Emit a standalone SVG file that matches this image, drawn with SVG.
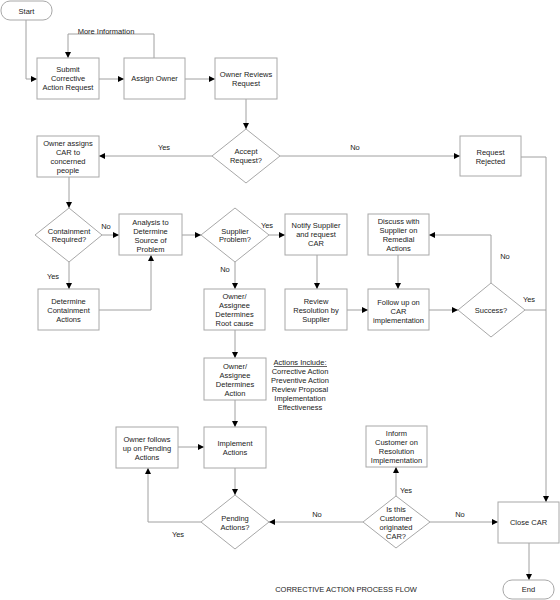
<svg xmlns="http://www.w3.org/2000/svg" width="560" height="600" viewBox="0 0 560 600">
<style>
.bg{fill:#fff}
.n{fill:#fff;stroke:#a8a8a8;stroke-width:1}
.t{font-family:"Liberation Sans",Arial,sans-serif;font-size:7.5px;fill:#222;text-anchor:middle}
.c{fill:none;stroke:#a0a0a0;stroke-width:1}
.a{marker-end:url(#ah)}
</style>
<defs>
<marker id="ah" viewBox="0 0 6 6" refX="6" refY="3" markerWidth="6" markerHeight="6" markerUnits="userSpaceOnUse" orient="auto"><path d="M0,0 L6,3 L0,6 z" fill="#000"/></marker>
</defs>
<rect class="bg" x="0" y="0" width="560" height="600"/>
<g id="connectors">
<path class="c a" d="M26,20 V79 H37"/>
<path class="c a" d="M99,79 H124"/>
<path class="c a" d="M154,58 V34 H68 V58"/>
<path class="c a" d="M185,79 H215"/>
<path class="c a" d="M246,99 V129"/>
<path class="c a" d="M212,156 H99"/>
<path class="c a" d="M280,156 H460"/>
<path class="c a" d="M521,157 H546 V502"/>
<path class="c a" d="M69,177 V208"/>
<path class="c a" d="M102,235 H119"/>
<path class="c a" d="M69,262 V289"/>
<path class="c a" d="M99,310 H151 V255"/>
<path class="c a" d="M182,235 H201"/>
<path class="c a" d="M269,235 H285"/>
<path class="c a" d="M235,262 V289"/>
<path class="c a" d="M317,255 V289"/>
<path class="c a" d="M347,310 H368"/>
<path class="c a" d="M398,255 V289"/>
<path class="c a" d="M429,310 H458"/>
<path class="c a" d="M491,283 V235 H429"/>
<path class="c" d="M525,310 H546"/>
<path class="c a" d="M235,330 V358"/>
<path class="c a" d="M235,400 V427"/>
<path class="c a" d="M178,447 H204"/>
<path class="c a" d="M235,468 V495"/>
<path class="c a" d="M201,522 H148 V468"/>
<path class="c a" d="M363,522 H269"/>
<path class="c a" d="M396,496 V467"/>
<path class="c a" d="M430,522 H498"/>
<path class="c a" d="M529,543 V580"/>
<text class="t" x="106" y="33.5">More Information</text>
<text class="t" x="164" y="149.5">Yes</text>
<text class="t" x="355" y="149.5">No</text>
<text class="t" x="106" y="228.5">No</text>
<text class="t" x="53" y="278.5">Yes</text>
<text class="t" x="267" y="227.5">Yes</text>
<text class="t" x="225" y="271.5">No</text>
<text class="t" x="505" y="258.5">No</text>
<text class="t" x="529" y="301.5">Yes</text>
<text class="t" x="178" y="536.5">Yes</text>
<text class="t" x="317" y="516.5">No</text>
<text class="t" x="406" y="492.5">Yes</text>
<text class="t" x="460" y="516.5">No</text>
</g>
<g id="start"><rect class="n" x="1" y="1" width="51" height="19" rx="9"/><text class="t" x="26.5" y="13.5">Start</text></g>
<g id="submit"><rect class="n" x="37" y="58" width="62" height="41"/><text class="t"><tspan x="68" y="72">Submit</tspan><tspan x="68" y="81">Corrective</tspan><tspan x="68" y="90">Action Request</tspan></text></g>
<g id="assign"><rect class="n" x="124" y="58" width="61" height="41"/><text class="t" x="154.5" y="81">Assign Owner</text></g>
<g id="reviews"><rect class="n" x="215" y="58" width="62" height="41"/><text class="t"><tspan x="246" y="77">Owner Reviews</tspan><tspan x="246" y="86">Request</tspan></text></g>
<g id="accept"><polygon class="n" points="246,129 280,156 246,183 212,156"/><text class="t"><tspan x="246" y="154">Accept</tspan><tspan x="246" y="163">Request?</tspan></text></g>
<g id="rejected"><rect class="n" x="460" y="136" width="61" height="40"/><text class="t"><tspan x="490.5" y="155">Request</tspan><tspan x="490.5" y="164">Rejected</tspan></text></g>
<g id="assigns"><rect class="n" x="37" y="136" width="62" height="41"/><text class="t"><tspan x="68" y="145.5">Owner assigns</tspan><tspan x="68" y="154.5">CAR to</tspan><tspan x="68" y="163.5">concerned</tspan><tspan x="68" y="172.5">people</tspan></text></g>
<g id="containment"><polygon class="n" points="69,208 102,235 69,262 35,235"/><text class="t"><tspan x="69" y="234">Containment</tspan><tspan x="69" y="242">Required?</tspan></text></g>
<g id="analysis"><rect class="n" x="119" y="214" width="63" height="41"/><text class="t"><tspan x="150.5" y="225">Analysis to</tspan><tspan x="150.5" y="234">Determine</tspan><tspan x="150.5" y="243">Source of</tspan><tspan x="150.5" y="251.5">Problem</tspan></text></g>
<g id="supplier"><polygon class="n" points="235,208 269,235 235,262 201,235"/><text class="t"><tspan x="235" y="234">Supplier</tspan><tspan x="235" y="242">Problem?</tspan></text></g>
<g id="notify"><rect class="n" x="285" y="214" width="62" height="41"/><text class="t"><tspan x="316" y="228">Notify Supplier</tspan><tspan x="316" y="237">and request</tspan><tspan x="316" y="246">CAR</tspan></text></g>
<g id="discuss"><rect class="n" x="368" y="214" width="61" height="41"/><text class="t"><tspan x="398.5" y="224">Discuss with</tspan><tspan x="398.5" y="233">Supplier on</tspan><tspan x="398.5" y="242">Remedial</tspan><tspan x="398.5" y="251">Actions</tspan></text></g>
<g id="determine"><rect class="n" x="38" y="289" width="61" height="41"/><text class="t"><tspan x="68.5" y="304">Determine</tspan><tspan x="68.5" y="313">Containment</tspan><tspan x="68.5" y="322">Actions</tspan></text></g>
<g id="rootcause"><rect class="n" x="204" y="289" width="61" height="41"/><text class="t"><tspan x="234.5" y="299">Owner/</tspan><tspan x="234.5" y="308">Assignee</tspan><tspan x="234.5" y="317">Determines</tspan><tspan x="234.5" y="326">Root cause</tspan></text></g>
<g id="review"><rect class="n" x="285" y="289" width="62" height="41"/><text class="t"><tspan x="316" y="304">Review</tspan><tspan x="316" y="313">Resolution by</tspan><tspan x="316" y="322">Supplier</tspan></text></g>
<g id="followup"><rect class="n" x="368" y="289" width="61" height="41"/><text class="t"><tspan x="398.5" y="305">Follow up on</tspan><tspan x="398.5" y="314">CAR</tspan><tspan x="398.5" y="323">implementation</tspan></text></g>
<g id="success"><polygon class="n" points="491,283 525,310 491,337 458,310"/><text class="t" x="491" y="313">Success?</text></g>
<g id="determinesaction"><rect class="n" x="204" y="358" width="62" height="42"/><text class="t"><tspan x="235" y="369">Owner/</tspan><tspan x="235" y="378">Assignee</tspan><tspan x="235" y="387">Determines</tspan><tspan x="235" y="396">Action</tspan></text></g>
<g id="actionsinclude"><text class="t"><tspan x="300" y="365">Actions Include:</tspan><tspan x="300" y="374">Corrective Action</tspan><tspan x="300" y="383">Preventive Action</tspan><tspan x="300" y="392">Review Proposal</tspan><tspan x="300" y="401">Implementation</tspan><tspan x="300" y="410">Effectiveness</tspan></text><line x1="274" y1="366.5" x2="327" y2="366.5" stroke="#222" stroke-width="0.7"/></g>
<g id="implement"><rect class="n" x="204" y="427" width="62" height="41"/><text class="t"><tspan x="235" y="446">Implement</tspan><tspan x="235" y="455">Actions</tspan></text></g>
<g id="ownerfollows"><rect class="n" x="116" y="427" width="62" height="41"/><text class="t"><tspan x="147" y="442">Owner follows</tspan><tspan x="147" y="451">up on Pending</tspan><tspan x="147" y="460">Actions</tspan></text></g>
<g id="pending"><polygon class="n" points="235,495 269,522 235,549 201,522"/><text class="t"><tspan x="235" y="521">Pending</tspan><tspan x="235" y="530">Actions?</tspan></text></g>
<g id="inform"><rect class="n" x="366" y="426" width="61" height="41"/><text class="t"><tspan x="396.5" y="436">Inform</tspan><tspan x="396.5" y="445">Customer on</tspan><tspan x="396.5" y="454">Resolution</tspan><tspan x="396.5" y="463">Implementation</tspan></text></g>
<g id="customer"><polygon class="n" points="396,496 430,522 396,548 363,522"/><text class="t"><tspan x="396" y="512">Is this</tspan><tspan x="396" y="521">Customer</tspan><tspan x="396" y="530">originated</tspan><tspan x="396" y="539">CAR?</tspan></text></g>
<g id="close"><rect class="n" x="498" y="502" width="61" height="41"/><text class="t" x="528.5" y="525">Close CAR</text></g>
<g id="end"><rect class="n" x="503" y="580" width="51" height="19" rx="9"/><text class="t" x="528.5" y="592">End</text></g>
<g id="title"><text class="t" x="346" y="592">CORRECTIVE ACTION PROCESS FLOW</text></g>
</svg>
